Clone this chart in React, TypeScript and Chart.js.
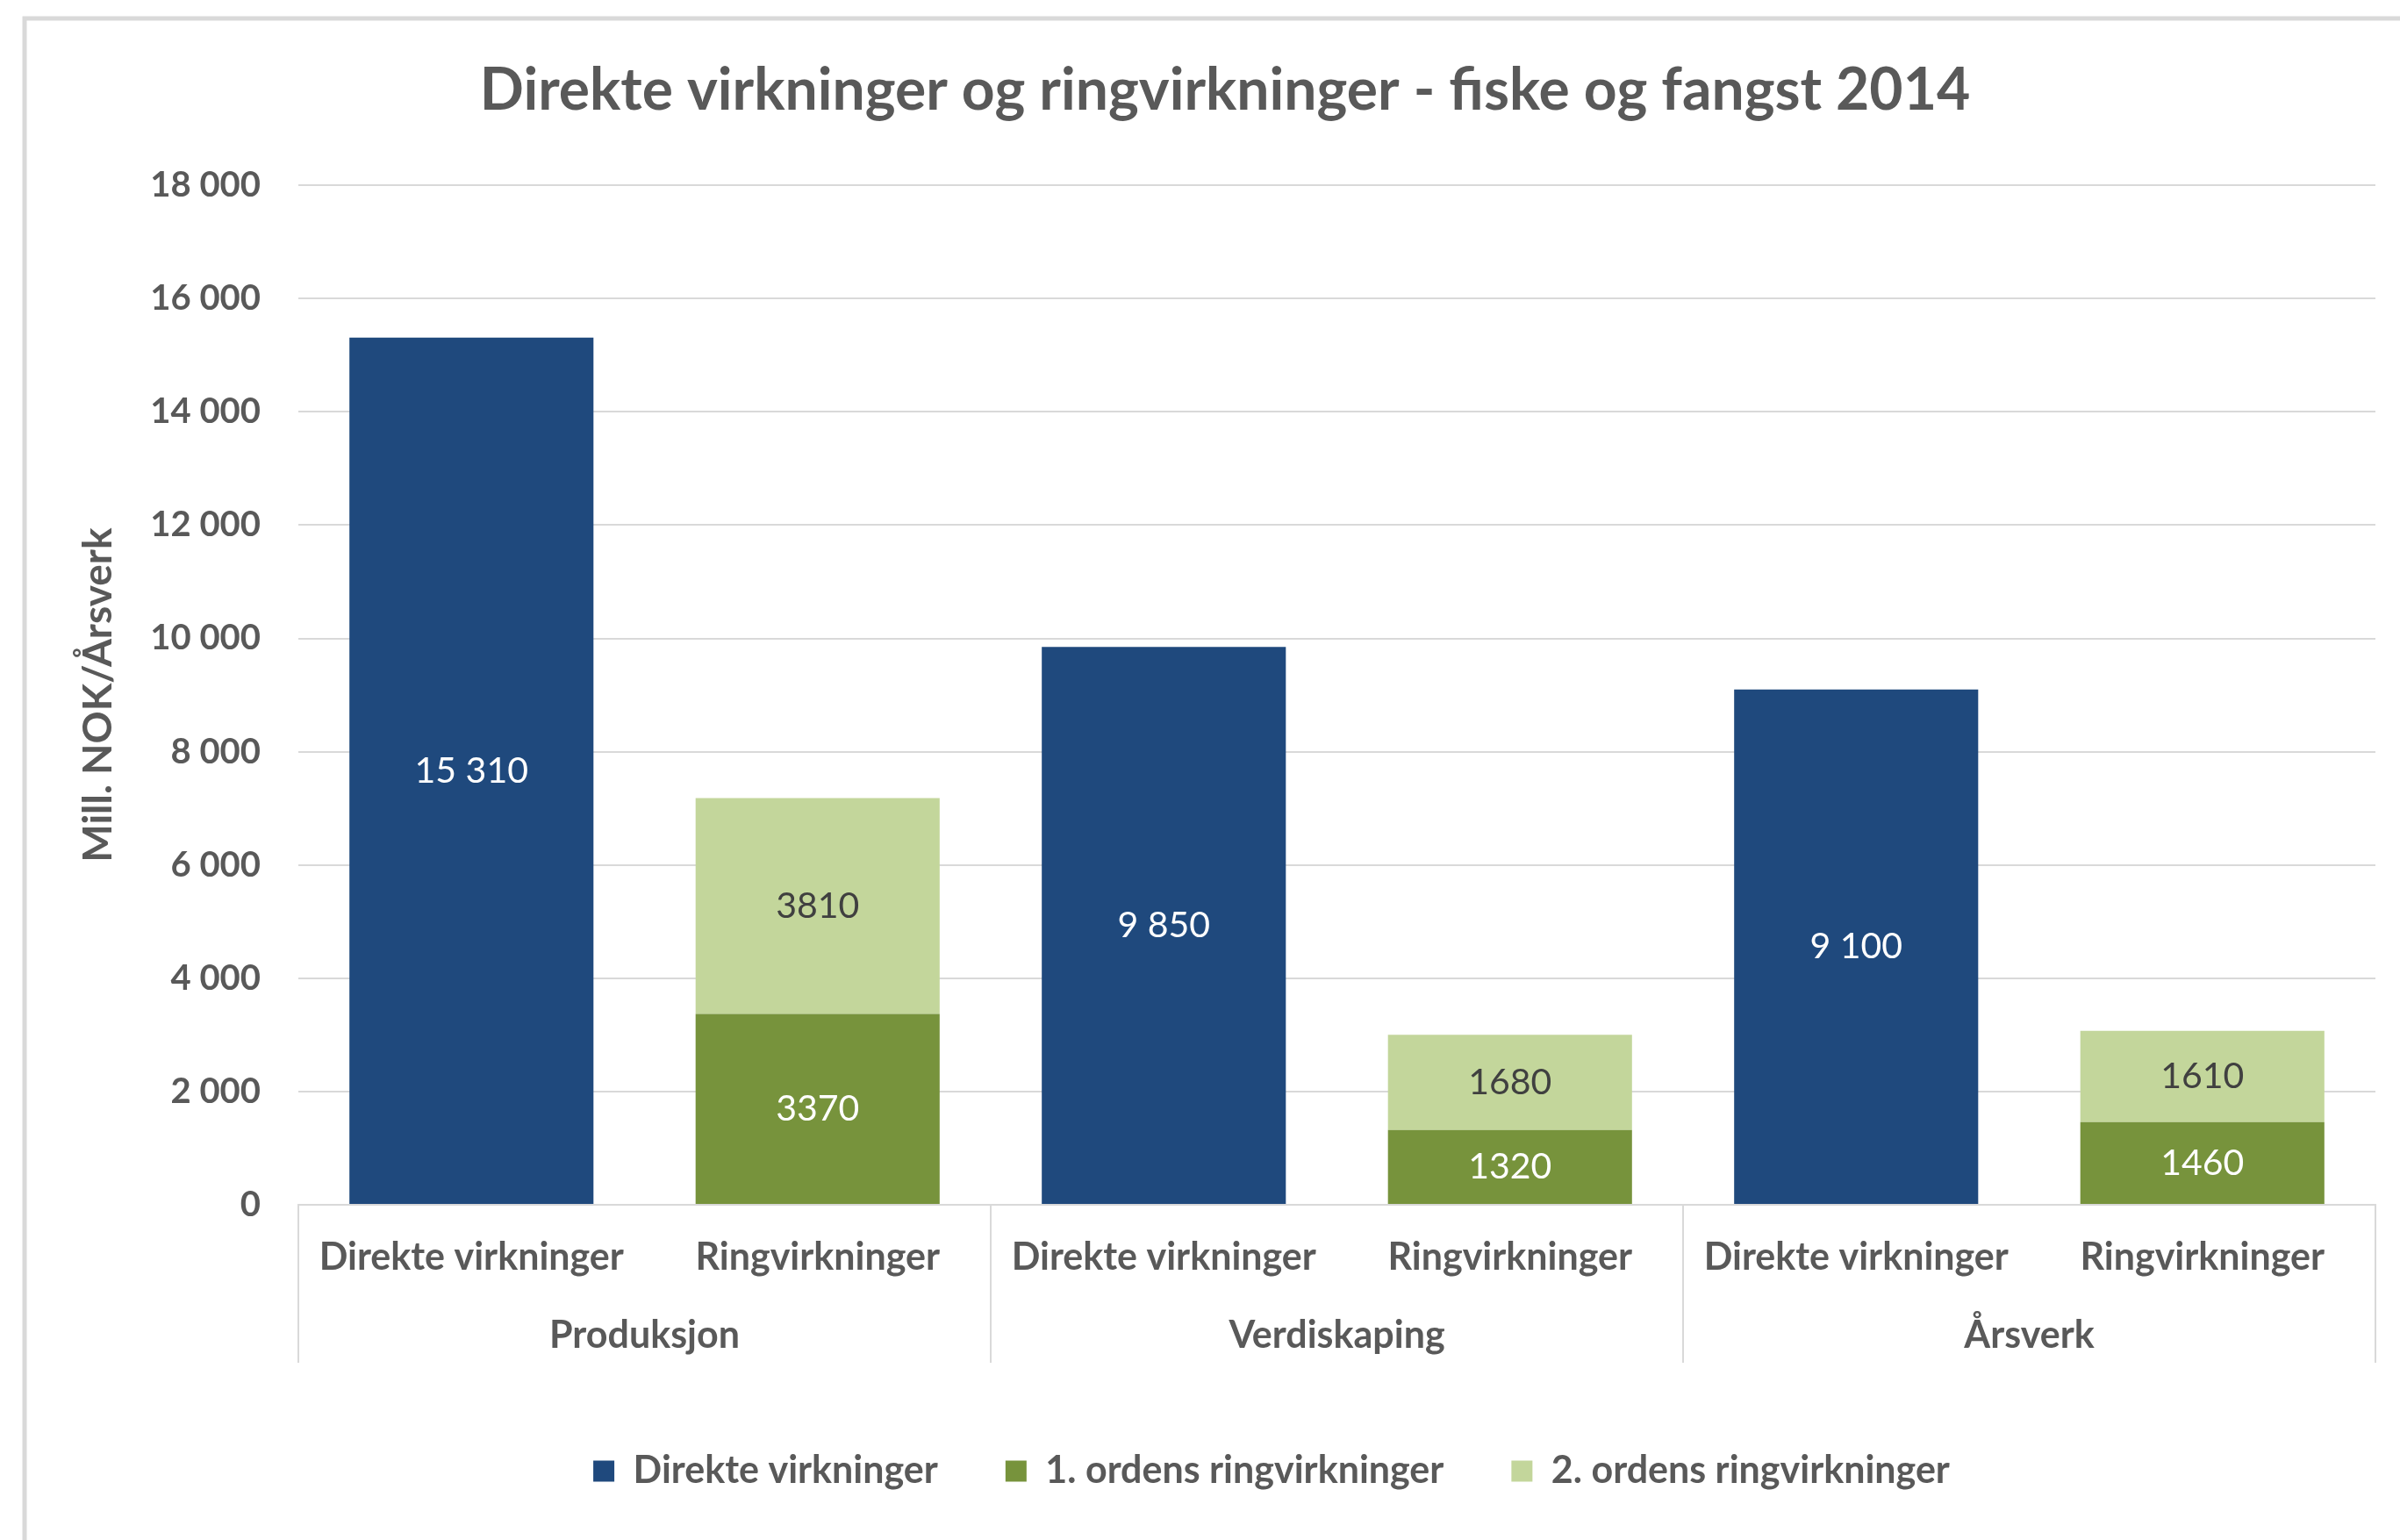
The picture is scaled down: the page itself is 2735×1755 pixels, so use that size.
import { useEffect, useRef } from 'react';
import { Chart, registerables } from 'chart.js';

Chart.register(...registerables);

const categories = [
  'Direkte virkninger',
  'Ringvirkninger',
  'Direkte virkninger',
  'Ringvirkninger',
  'Direkte virkninger',
  'Ringvirkninger',
];
const groups = ['Produksjon', 'Verdiskaping', 'Årsverk'];
const direkteVirkninger = [15310, null, 9850, null, 9100, null];
const forsteOrdens = [null, 3370, null, 1320, null, 1460];
const andreOrdens = [null, 3810, null, 1680, null, 1610];
const seriesNames = ['Direkte virkninger', '1. ordens ringvirkninger', '2. ordens ringvirkninger'];
const yMin = 0;
const yMax = 18000;
const yStep = 2000;
const chartTitle = 'Direkte virkninger og ringvirkninger - fiske og fangst 2014';
const yTitle = 'Mill. NOK/Årsverk';

const TEXT = '#595959';
const GRID = '#d9d9d9';
const FONT = 'Lato';

const spaced = (n: number) => String(n).replace(/\B(?=(\d{3})+(?!\d))/g, ' ');

const framePlugin = {
  id: 'frame',
  beforeDraw(chart: any) {
    const ctx = chart.ctx;
    ctx.save();
    ctx.strokeStyle = GRID;
    ctx.lineWidth = 5;
    ctx.strokeRect(28, 21, 2800, 1800);
    ctx.restore();
  },
};

const shiftLegendPlugin = {
  id: 'shiftLegend',
  afterLayout(chart: any) {
    const l = chart.legend;
    if (l) {
      l.left += 53;
      l.right += 53;
    }
  },
};

const dataLabelPlugin = {
  id: 'dataLabels',
  afterDatasetsDraw(chart: any) {
    const ctx = chart.ctx;
    ctx.save();
    ctx.font = `400 41px ${FONT}`;
    ctx.textAlign = 'center';
    ctx.textBaseline = 'middle';
    chart.data.datasets.forEach((ds: any, di: number) => {
      const meta = chart.getDatasetMeta(di);
      meta.data.forEach((el: any, i: number) => {
        const v = ds.data[i];
        if (v === null || v === undefined) return;
        const txt = di === 0 ? spaced(v) : String(v);
        ctx.fillStyle = di === 2 ? '#404040' : '#ffffff';
        ctx.fillText(txt, el.x, (el.y + el.base) / 2);
      });
    });
    ctx.restore();
  },
};

export default function App() {
  const ref = useRef<HTMLCanvasElement>(null);

  useEffect(() => {
    if (!ref.current) return;
    const chart = new Chart(ref.current, {
      type: 'bar',
      data: {
        labels: categories,
        datasets: [
          { label: seriesNames[0], data: direkteVirkninger, backgroundColor: '#1f497d' },
          { label: seriesNames[1], data: forsteOrdens, backgroundColor: '#77933c' },
          { label: seriesNames[2], data: andreOrdens, backgroundColor: '#c3d69b' },
        ],
      },
      options: {
        responsive: false,
        animation: false,
        devicePixelRatio: 1,
        layout: { padding: { left: 85, right: 28, top: 0, bottom: 47 } },
        datasets: { bar: { barPercentage: 0.705, categoryPercentage: 1.0 } },
        plugins: {
          title: {
            display: true,
            text: chartTitle,
            color: TEXT,
            font: { family: FONT, size: 66, weight: 'bold' },
            padding: { top: 64, bottom: 68 },
          },
          legend: {
            display: true,
            position: 'bottom',
            labels: {
              color: TEXT,
              font: { family: FONT, size: 43, weight: 'bold' },
              boxWidth: 24,
              boxHeight: 24,
              padding: 77,
            },
          },
          tooltip: { enabled: false },
        },
        scales: {
          x: {
            stacked: true,
            weight: 0,
            offset: true,
            afterFit: (s: any) => {
              s.height = 88;
            },
            grid: {
              offset: true,
              drawOnChartArea: false,
              drawTicks: true,
              tickLength: 180,
              lineWidth: 2,
              color: (c: any) => (c.type !== 'tick' || c.index % 2 === 0 ? GRID : 'rgba(0,0,0,0)'),
            },
            border: { display: true, color: GRID, width: 2 },
            ticks: {
              color: TEXT,
              font: { family: FONT, size: 43, weight: 'bold' },
              padding: -146,
              autoSkip: false,
              maxRotation: 0,
              minRotation: 0,
            },
          },
          x2: {
            type: 'category',
            labels: groups,
            position: 'bottom',
            weight: 1,
            offset: true,
            afterFit: (s: any) => {
              s.height = 117;
            },
            grid: { display: false, drawTicks: false, drawOnChartArea: false },
            border: { display: false },
            ticks: {
              color: TEXT,
              font: { family: FONT, size: 43, weight: 'bold' },
              padding: 35,
              autoSkip: false,
              maxRotation: 0,
              minRotation: 0,
            },
          },
          y: {
            stacked: true,
            min: yMin,
            max: yMax,
            afterFit: (s: any) => {
              s.width = 255;
            },
            ticks: {
              stepSize: yStep,
              color: TEXT,
              font: { family: FONT, size: 40, weight: 'bold' },
              padding: 43,
              callback: (v: any) => spaced(Number(v)),
            },
            grid: { color: GRID, lineWidth: 2, drawTicks: false },
            border: { display: false },
            title: {
              display: true,
              text: yTitle,
              color: TEXT,
              font: { family: FONT, size: 46, weight: 'bold' },
              padding: { top: 0, bottom: 0 },
            },
          },
        },
      },
      plugins: [framePlugin, shiftLegendPlugin, dataLabelPlugin],
    } as any);
    return () => chart.destroy();
  }, []);

  return (
    <div style={{ position: 'absolute', left: 0, top: 0, width: 2735, height: 1755, background: '#ffffff' }}>
      <canvas ref={ref} width={2735} height={1755} style={{ width: 2735, height: 1755, display: 'block' }} />
    </div>
  );
}
